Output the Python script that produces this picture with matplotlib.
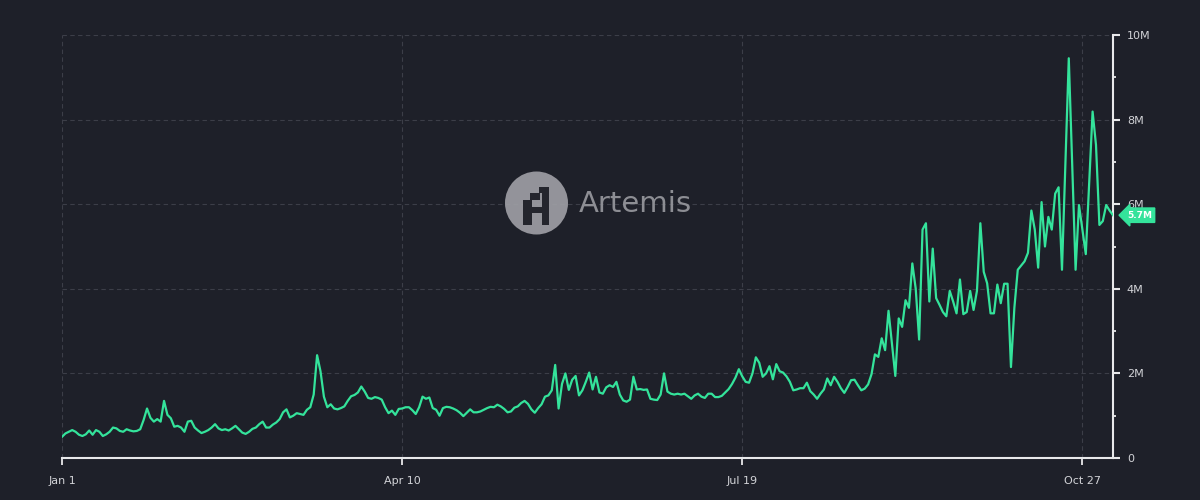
import matplotlib
matplotlib.use('Agg')
import matplotlib.pyplot as plt
from matplotlib.patches import Ellipse, Rectangle
from matplotlib.ticker import MultipleLocator
import matplotlib.transforms as mtransforms
import pandas as pd

# Daily values (millions), Jan 1 2024 onwards
part1 = [0.50, 0.58, 0.62, 0.66, 0.62, 0.55, 0.52, 0.56, 0.65, 0.55,
         0.66, 0.62, 0.52, 0.56, 0.62, 0.72, 0.70, 0.64, 0.62, 0.68,
         0.65, 0.63, 0.64, 0.68, 0.90, 1.17, 0.95, 0.86, 0.92, 0.86,
         1.35, 1.02, 0.94, 0.74, 0.76, 0.72, 0.62, 0.86, 0.88, 0.72,
         0.65, 0.59, 0.62, 0.66, 0.72, 0.80, 0.70, 0.66, 0.68, 0.65,
         0.70]
part2 = [0.76, 0.68, 0.60, 0.57, 0.62, 0.69, 0.72, 0.80, 0.86, 0.72,
         0.72, 0.79, 0.84, 0.92, 1.08, 1.15, 0.96, 1.00, 1.06, 1.04,
         1.02, 1.14, 1.20, 1.50, 2.43, 2.05, 1.45, 1.20, 1.27, 1.17,
         1.15, 1.18, 1.22, 1.35, 1.46, 1.49, 1.55, 1.69, 1.57, 1.42,
         1.40, 1.44, 1.42, 1.38, 1.20, 1.06, 1.12, 1.02, 1.16, 1.17,
         1.20]
part3 = [1.20, 1.13, 1.04, 1.20, 1.45, 1.40, 1.43, 1.18, 1.14, 1.00,
         1.18, 1.21, 1.20, 1.17, 1.13, 1.07, 0.99, 1.07, 1.15, 1.08,
         1.08, 1.10, 1.14, 1.18, 1.21, 1.20, 1.26, 1.22, 1.16, 1.08,
         1.10, 1.19, 1.22, 1.30, 1.35, 1.28, 1.15, 1.07, 1.18, 1.27,
         1.45, 1.48, 1.60, 2.20, 1.17, 1.75, 2.00, 1.61, 1.85, 1.94,
         1.48]
part4 = [1.60, 1.80, 2.02, 1.62, 1.92, 1.55, 1.52, 1.67, 1.72, 1.68,
         1.80, 1.50, 1.36, 1.33, 1.38, 1.92, 1.62, 1.63, 1.61, 1.62,
         1.40, 1.38, 1.37, 1.50, 2.00, 1.57, 1.52, 1.50, 1.52, 1.50,
         1.52, 1.46, 1.40, 1.48, 1.52, 1.45, 1.42, 1.52, 1.52, 1.44,
         1.44, 1.47, 1.55, 1.63, 1.75, 1.90, 2.10, 1.93, 1.80, 1.78,
         2.00, 2.38]
part5 = [2.25, 1.92, 2.00, 2.17, 1.86, 2.22, 2.05, 2.02, 1.93, 1.80,
         1.60, 1.62, 1.65, 1.65, 1.78, 1.58, 1.50, 1.40, 1.52, 1.62,
         1.88, 1.72, 1.92, 1.80, 1.65, 1.54, 1.68, 1.84, 1.85, 1.72,
         1.60, 1.64, 1.74, 1.98, 2.45, 2.39, 2.83, 2.55, 3.48, 2.70,
         1.94, 3.30, 3.10, 3.73, 3.55, 4.60, 4.00, 2.80, 5.40, 5.55,
         3.70, 4.95]
part6 = [3.78, 3.62, 3.45, 3.35, 3.95, 3.70, 3.42, 4.22, 3.40, 3.45,
         3.95, 3.50, 3.95, 5.55, 4.40, 4.13, 3.42, 3.42, 4.10, 3.66,
         4.12, 4.12, 2.15, 3.55, 4.45, 4.55, 4.65, 4.85, 5.85, 5.40,
         4.50, 6.05, 5.00, 5.70, 5.40, 6.25, 6.40, 4.45, 6.95, 9.45,
         6.95, 4.45, 5.98, 5.40, 4.82, 6.49, 8.19, 7.40, 5.51, 5.60,
         5.98, 5.85, 5.74]

values = part1 + part2 + part3 + part4 + part5 + part6
dates = pd.date_range('2024-01-01', periods=len(values), freq='D')

x_tick_dates = pd.to_datetime(['2024-01-01', '2024-04-10', '2024-07-19', '2024-10-27'])
x_tick_labels = ['Jan 1', 'Apr 10', 'Jul 19', 'Oct 27']
y_ticks = [0, 2, 4, 6, 8, 10]
y_tick_labels = ['0', '2M', '4M', '6M', '8M', '10M']
last_label = '5.7M'

BG = '#1e2029'
GREEN = '#34e39b'
AXIS = '#e8e8ea'
TEXT = '#d2d3d7'
GRID = '#3c3e48'

W, H = 1200, 500
fig = plt.figure(figsize=(12, 5), dpi=100, facecolor=BG)
ax = fig.add_axes([62 / W, 42 / H, (1113 - 62) / W, (458 - 35) / H])
ax.set_facecolor(BG)

ax.plot(dates, values, color=GREEN, linewidth=1.6, zorder=3)

ax.set_xlim(dates[0], dates[-1])
ax.set_ylim(0, 10)

ax.set_xticks(x_tick_dates)
ax.set_xticklabels(x_tick_labels)
ax.yaxis.tick_right()
ax.set_yticks(y_ticks)
ax.set_yticklabels(y_tick_labels)
ax.yaxis.set_minor_locator(MultipleLocator(1))

for side in ['left', 'top']:
    ax.spines[side].set_visible(False)
for side in ['bottom', 'right']:
    ax.spines[side].set_color(AXIS)
    ax.spines[side].set_linewidth(1.5)

ax.tick_params(axis='y', which='major', colors=AXIS, labelcolor=TEXT,
               length=5, width=1.5, labelsize=8, pad=5)
ax.tick_params(axis='y', which='minor', colors=AXIS, length=2.5, width=1.3)
ax.tick_params(axis='x', colors=AXIS, labelcolor=TEXT,
               length=5, width=1.3, labelsize=8, pad=8)

ax.grid(True, which='major', color=GRID, linestyle=(0, (4, 3)), linewidth=0.8)
ax.set_axisbelow(True)

# last value tag on the right axis
trans = mtransforms.blended_transform_factory(ax.transAxes, ax.transData)
ax.text(1.0, values[-1], last_label, transform=trans, ha='left', va='center',
        fontsize=6.5, fontweight='bold', color='white', clip_on=False,
        bbox=dict(boxstyle='larrow,pad=0.3', facecolor=GREEN, edgecolor=GREEN),
        zorder=5)
# nudge right so the arrow tip sits on the axis
for t in ax.texts:
    t.set_position((1.0 + 14 / (1113 - 62), values[-1]))

# watermark
def fx(x):
    return x / W

def fy(y):
    return 1 - y / H

fig.add_artist(Ellipse((fx(536.5), fy(203)), 63 / W, 63 / H,
                       transform=fig.transFigure, facecolor='#a1a1a7',
                       edgecolor='none', alpha=0.9))
blocks = [(539.3, 186.7, 549.3, 193.3), (530, 193.3, 540, 200),
          (541.7, 186.7, 549.3, 225), (523.3, 200, 531.7, 206.7),
          (523.3, 206.7, 549.3, 213.3), (523.3, 213.3, 531.7, 225)]
for x0, y0, x1, y1 in blocks:
    fig.add_artist(Rectangle((fx(x0), fy(y1)), (x1 - x0) / W, (y1 - y0) / H,
                             transform=fig.transFigure, facecolor='#24252d',
                             edgecolor='none'))
fig.text(fx(579), fy(204), 'Artemis', ha='left', va='center',
         fontsize=21, color='#8d8e94')

fig.savefig('out.png', dpi=100, facecolor=BG)
